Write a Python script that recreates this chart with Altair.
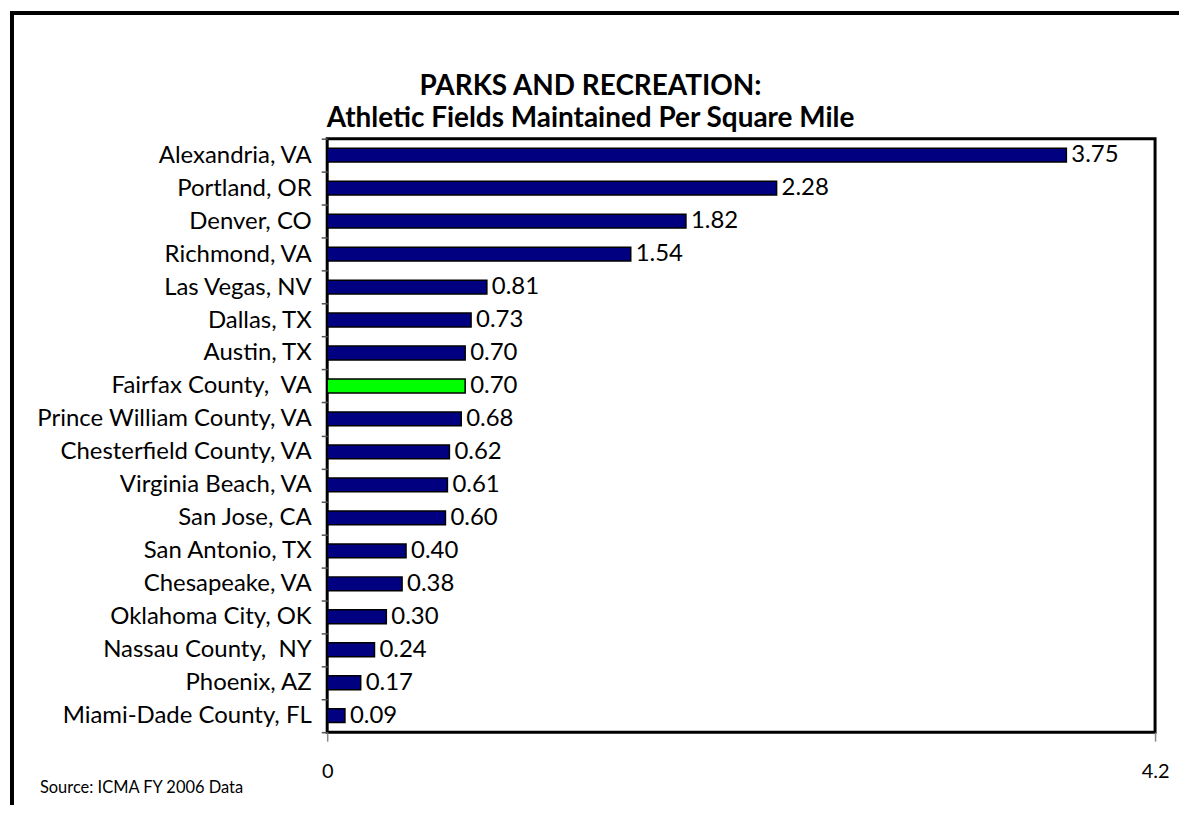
import altair as alt
import pandas as pd

# ---- data ----
cities = [
    "Alexandria, VA", "Portland, OR", "Denver, CO", "Richmond, VA",
    "Las Vegas, NV", "Dallas, TX", "Austin, TX", "Fairfax County,\u00a0 VA",
    "Prince William County, VA", "Chesterfield County, VA", "Virginia Beach, VA",
    "San Jose, CA", "San Antonio, TX", "Chesapeake, VA", "Oklahoma City, OK",
    "Nassau County,\u00a0 NY", "Phoenix, AZ", "Miami-Dade County, FL",
]
values = [3.75, 2.28, 1.82, 1.54, 0.81, 0.73, 0.70, 0.70, 0.68, 0.62,
          0.61, 0.60, 0.40, 0.38, 0.30, 0.24, 0.17, 0.09]
highlight_city = "Fairfax County,\u00a0 VA"
title_lines = ["PARKS AND RECREATION:", "Athletic Fields Maintained Per Square Mile"]
source_note = "Source: ICMA FY 2006 Data"
x_tick_values = [0, 4.2]
x_max = 4.2

df = pd.DataFrame({"city": cities, "value": values})
df["group"] = ["Fairfax" if c == highlight_city else "Other" for c in cities]
df["label"] = [f"{v:.2f}" for v in values]

FONT = "Lato"
W, H = 830, 595

y_enc = alt.Y(
    "city:N", sort=cities, title=None,
    scale=alt.Scale(paddingInner=0, paddingOuter=0),
    axis=alt.Axis(tickBand="extent", labelFont=FONT, labelFontSize=24,
                  labelColor="black", labelPadding=10, tickSize=6,
                  tickColor="#555555", tickWidth=1.5, domain=False,
                  labelLimit=400),
)
x_enc = alt.X(
    "value:Q", title=None,
    scale=alt.Scale(domain=[0, x_max], nice=False, zero=True),
    axis=alt.Axis(values=x_tick_values, labelExpr="'' + datum.value",
                  labelFont=FONT, labelFontSize=20, labelColor="black",
                  labelFlush=False, labelPadding=20, tickSize=9,
                  tickColor="#888888", tickWidth=1.5, domain=False, grid=False),
)

bars = alt.Chart(df).mark_bar(
    height=alt.RelativeBandSize(band=0.42), stroke="black", strokeWidth=1.5
).encode(
    x=x_enc, y=y_enc,
    color=alt.Color("group:N", legend=None,
                    scale=alt.Scale(domain=["Other", "Fairfax"],
                                    range=["#000080", "#00FF00"])),
)

labels = alt.Chart(df).mark_text(
    align="left", baseline="middle", dx=5, font=FONT, fontSize=24, color="black"
).encode(x=x_enc, y=y_enc, text="label:N")

one = pd.DataFrame({"k": [0]})

title1 = alt.Chart(one).mark_text(
    font=FONT, fontSize=28, fontWeight="bold", color="black",
    align="center", baseline="alphabetic", text=title_lines[0]
).encode(x=alt.value(264), y=alt.value(-44))

title2 = alt.Chart(one).mark_text(
    font=FONT, fontSize=28, fontWeight="bold", color="black",
    align="center", baseline="alphabetic", text=title_lines[1]
).encode(x=alt.value(264), y=alt.value(-12))

source = alt.Chart(one).mark_text(
    font=FONT, fontSize=16.5, color="black", align="left", baseline="middle",
    text=source_note
).encode(x=alt.value(-288), y=alt.value(651))

frame_left = alt.Chart(one).mark_rule(color="black", strokeWidth=4).encode(
    x=alt.value(-316), y=alt.value(-126), y2=alt.value(668))
frame_top = alt.Chart(one).mark_rule(color="black", strokeWidth=4).encode(
    x=alt.value(-318), x2=alt.value(854), y=alt.value(-126))

chart = alt.layer(
    bars, labels, title1, title2, source, frame_left, frame_top
).properties(
    width=W, height=H,
    padding={"left": 0, "top": 2, "right": 0, "bottom": 0},
    background="white",
).configure_view(
    stroke="black", strokeWidth=3
)

chart.save("out.html", embed_options={"renderer": "svg", "actions": False})
